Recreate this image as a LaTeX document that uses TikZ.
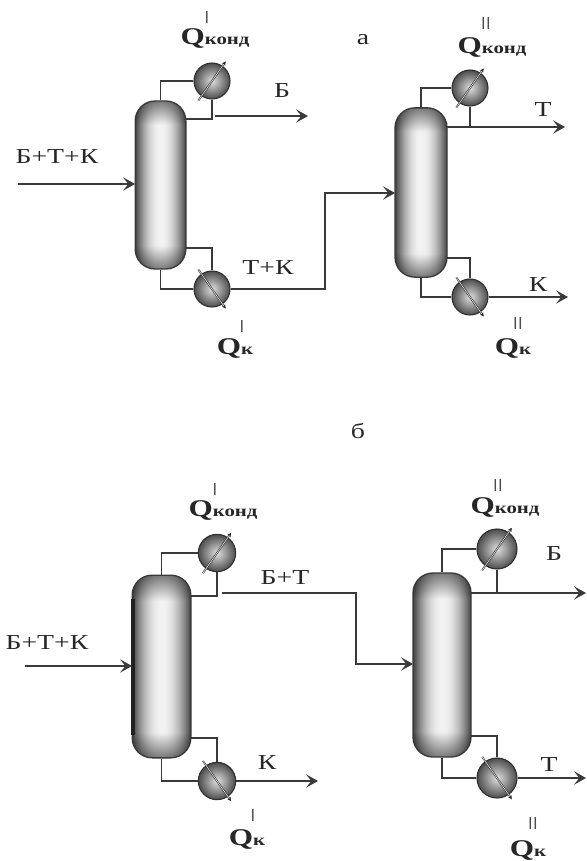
\documentclass[tikz,border=0pt]{standalone}
\usepackage{fontspec}
\setmainfont[FakeStretch=1.3]{Liberation Serif}
\usetikzlibrary{arrows.meta}
\pgfdeclarefunctionalshading{kolshade}{\pgfpoint{-50bp}{-50bp}}{\pgfpoint{50bp}{50bp}}{}{
  abs 25 div .72 sub dup 0 lt {pop 0} if .28 div .5 mul 1 exch sub
  exch abs 25 div dup mul .7 mul .95 exch sub
  mul dup dup
}
\tikzset{
  kol/.style={draw=gray!45!black,line width=1pt,inner sep=0pt,rounded corners=15pt,shading=kolshade},
  teplo/.style={circle,draw=gray!35!black,line width=.8pt,inner sep=0pt,minimum size=27pt,
    inner color=gray!25,outer color=gray!60!black},
  diag/.style={draw=gray!30!black,line width=.4pt,double=gray!25,double distance=.5pt,
    shorten <=-4pt,shorten >=-4pt,-{Stealth[length=3pt,width=3pt]}},
  truba/.style={draw=gray!45!black,line width=1.1pt},
  potok/.style={truba,-{Stealth[length=9pt,width=10pt,inset=4pt]}},
  lbl/.style={inner sep=0pt,font=\fontsize{16}{18}\selectfont,text=black!85},
  qlbl/.style={inner sep=0pt,font=\fontsize{18}{20}\bfseries\selectfont,text=black!85},
  rim/.style={inner sep=0pt,font=\fontsize{13}{15}\sffamily\selectfont,text=black!70}
}
\newcommand{\qsub}[1]{Q{\fontsize{12}{14}\selectfont #1}}
\begin{document}
\begin{tikzpicture}[x=0.75pt,y=-0.75pt]
\useasboundingbox (0,0) rectangle (586,861);
% scheme a, first column
\node[kol,minimum width=38pt,minimum height=126pt] (kolA1) at (160.5,185) {};
\node[teplo] (kondA1) at (212,81) {};
\node[teplo] (kipA1) at (212,289) {};
\draw[diag] (kondA1.235) -- (kondA1.55);
\draw[diag] (kipA1.125) -- (kipA1.305);
\coordinate (tapA1) at (186,119);
\coordinate (retA1) at (186,248);
\coordinate (inA1) at (18,184);
\coordinate (inA1e) at (135,184);
\coordinate (outA1) at (215,116);
\coordinate (outA1e) at (308,116);
\draw[truba] (kolA1.north) |- (kondA1.west);
\draw[truba] (kondA1.south) |- (tapA1);
\draw[truba] (retA1) -| (kipA1.north);
\draw[truba] (kolA1.south) |- (kipA1.west);
\draw[potok] (inA1) -- (inA1e);
\draw[potok] (outA1) -- (outA1e);
\node[lbl] (feedA) at (57,157) {Б+Т+К};
\node[lbl] (prodA1) at (282,91) {Б};
\node[lbl] (botA1) at (268,268) {Т+К};
\node[qlbl] (qkondA1) at (215,38) {\qsub{конд}};
\node[rim] (rkondA1) at (207,17) {I};
\node[qlbl] (qkipA1) at (235,348) {\qsub{к}};
\node[rim] (rkipA1) at (242,326) {I};

% scheme a, second column
\node[lbl] (titleA) at (363,40) {а};
\node[kol,minimum width=39pt,minimum height=127pt] (kolA2) at (421,192.5) {};
\node[teplo] (kondA2) at (470,88) {};
\node[teplo] (kipA2) at (470,297) {};
\draw[diag] (kondA2.235) -- (kondA2.55);
\draw[diag] (kipA2.125) -- (kipA2.305);
\coordinate (tapA2) at (447,127);
\coordinate (outA2) at (565,127);
\coordinate (retA2) at (447,258);
\coordinate (botA2) at (568,297);
\coordinate (inA2) at (395,193);
\draw[truba] (kolA2.north) |- (kondA2.west);
\draw[truba] (kondA2.south) -- (kondA2.south |- tapA2);
\draw[potok] (tapA2) -- (outA2);
\draw[truba] (retA2) -| (kipA2.north);
\draw[truba] (kolA2.south) |- (kipA2.west);
\draw[potok] (kipA2.east) -- (botA2);
\draw[potok] (kipA1.east) -| (325,193) -- (inA2);
\node[lbl] (prodA2) at (543,110) {Т};
\node[lbl] (botlA2) at (538,285) {К};
\node[qlbl] (qkondA2) at (492,47) {\qsub{конд}};
\node[rim] (rkondA2) at (486,23) {II};
\node[qlbl] (qkipA2) at (513,348) {\qsub{к}};
\node[rim] (rkipA2) at (518,323) {II};

% scheme b, first column
\node[lbl] (titleB) at (358,431) {б};
\node[kol,minimum width=44pt,minimum height=137pt] (kolB1) at (161.5,666.5) {};
\draw[gray!25!black,line width=2.5pt] ([xshift=1pt,yshift=-18pt]kolB1.north west) -- ([xshift=1pt,yshift=18pt]kolB1.south west);
\node[teplo,minimum size=28pt] (kondB1) at (217,553) {};
\node[teplo,minimum size=28pt] (kipB1) at (217,781) {};
\draw[diag] (kondB1.235) -- (kondB1.55);
\draw[diag] (kipB1.125) -- (kipB1.305);
\coordinate (tapB1) at (191,596);
\coordinate (retB1) at (191,738);
\coordinate (inB1) at (25,666);
\coordinate (inB1e) at (132,666);
\coordinate (outB1) at (222,593);
\coordinate (botB1) at (318,781);
\draw[truba] (kolB1.north) |- (kondB1.west);
\draw[truba] (kondB1.south) |- (tapB1);
\draw[truba] (retB1) -| (kipB1.north);
\draw[truba] (kolB1.south) |- (kipB1.west);
\draw[potok] (inB1) -- (inB1e);
\draw[potok] (kipB1.east) -- (botB1);
\node[lbl] (feedB) at (47,643) {Б+Т+К};
\node[lbl] (prodB1) at (285,578) {Б+Т};
\node[lbl] (botlB1) at (267,763) {К};
\node[qlbl] (qkondB1) at (223,510) {\qsub{конд}};
\node[rim] (rkondB1) at (215,489) {I};
\node[qlbl] (qkipB1) at (247,839) {\qsub{к}};
\node[rim] (rkipB1) at (253,815) {I};

% scheme b, second column
\node[kol,minimum width=43.5pt,minimum height=138pt] (kolB2) at (442,665) {};
\node[teplo,minimum size=30pt] (kondB2) at (497,549) {};
\node[teplo,minimum size=30pt] (kipB2) at (497,778) {};
\draw[diag] (kondB2.235) -- (kondB2.55);
\draw[diag] (kipB2.125) -- (kipB2.305);
\coordinate (tapB2) at (471,593);
\coordinate (outB2) at (586,593);
\coordinate (retB2) at (471,736);
\coordinate (botB2) at (586,778);
\coordinate (inB2) at (413,664);
\draw[truba] (kolB2.north) |- (kondB2.west);
\draw[truba] (kondB2.south) -- (kondB2.south |- tapB2);
\draw[potok] (tapB2) -- (outB2);
\draw[truba] (retB2) -| (kipB2.north);
\draw[truba] (kolB2.south) |- (kipB2.west);
\draw[potok] (kipB2.east) -- (botB2);
\draw[potok] (outB1) -| (356,664) -- (inB2);
\node[lbl] (prodB2) at (554,554) {Б};
\node[lbl] (botlB2) at (549,765) {Т};
\node[qlbl] (qkondB2) at (505,507) {\qsub{конд}};
\node[rim] (rkondB2) at (498,485) {II};
\node[qlbl] (qkipB2) at (528,850) {\qsub{к}};
\node[rim] (rkipB2) at (533,823) {II};
\end{tikzpicture}
\end{document}
